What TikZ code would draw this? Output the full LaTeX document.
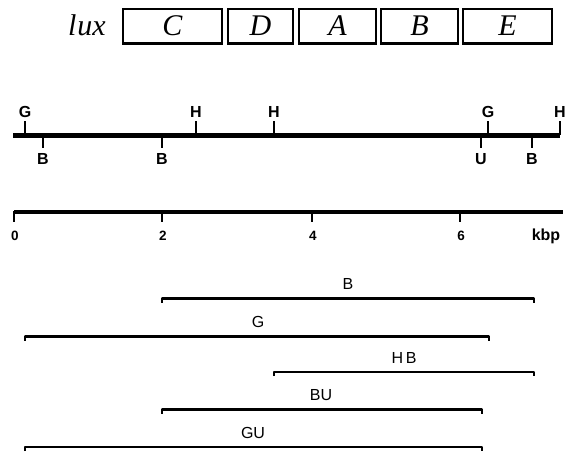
\documentclass[tikz,border=0pt]{standalone}
\usepackage{fontspec}
\setmainfont{Liberation Serif}
\newfontfamily\hv{Liberation Sans}
\begin{document}
\begin{tikzpicture}[x=1pt,y=-1pt,
  gene/.style={draw, line width=2.4pt, minimum height=34.6pt, inner sep=0pt,
    font=\fontsize{30}{30}\selectfont\itshape},
  site/.style={font=\hv\bfseries\fontsize{16}{16}\selectfont, inner sep=0pt},
  kb/.style={font=\hv\bfseries\fontsize{13.5}{13.5}\selectfont, inner sep=0pt},
  frag/.style={font=\hv\fontsize{16}{16}\selectfont, inner sep=0pt},
  mapline/.style={line width=5pt},
  scaleline/.style={line width=3.5pt},
  tickmark/.style={line width=2.6pt},
  fragline/.style={line width=2.4pt, line join=round},
]
\useasboundingbox (0,0) rectangle (565,451);

% lux operon genes
\node[anchor=base east, font=\fontsize{30}{30}\selectfont\itshape, inner sep=0pt] (luxname) at (106,35) {l\kern1pt ux};
\node[gene, minimum width=98.6pt] (luxC) at (172.5,26) {C};
\node[gene, minimum width=64.6pt] (luxD) at (260.5,26) {D};
\node[gene, minimum width=76.6pt] (luxA) at (337.5,26) {A};
\node[gene, minimum width=76.6pt] (luxB) at (419.5,26) {B};
\node[gene, minimum width=88.6pt] (luxE) at (507.5,26) {E};

% restriction map
\coordinate (mapL) at (13,135);
\coordinate (mapR) at (560,135);
\draw[mapline] (mapL) -- (mapR);
% sites above the line
\foreach \x/\s [count=\i] in {25/G,196/H,274/H,488/G,560/H}{
  \node[site] (up\i) at (\x,112) {\s};
  \draw[tickmark] (\x,121) -- (\x,135);
}
% sites below the line
\foreach \x/\s [count=\i] in {43/B,162/B,481/U,532/B}{
  \node[site] (dn\i) at (\x,159) {\s};
  \draw[tickmark] (\x,135) -- (\x,148);
}

% kbp scale
\coordinate (scL) at (14,212);
\coordinate (scR) at (563,212);
\draw[scaleline] (scL) -- (scR);
\foreach \x/\n in {14/0,162/2,312/4,460/6}{
  \draw[tickmark] (\x,211) -- (\x,222);
  \node[kb] (kb\n) at (\x+1,236) {\n};
}
\node[kb, font=\hv\bfseries\fontsize{16}{16}\selectfont] (kbp) at (546,236) {kbp};

% cloned fragments
\foreach \nm/\a/\b/\y/\lx/\lab in {
  fB/162/534/298.5/348/B,
  fG/25/489/336.5/258/G,
  fHB/274/534/372/404/H\,B,
  fBU/162/482/409.5/321/BU,
  fGU/25/482/447/253/GU}{
  \coordinate (\nm L) at (\a,\y);
  \coordinate (\nm R) at (\b,\y);
  \draw[fragline] ([yshift=-4pt]\nm L) -- (\nm L) -- (\nm R) -- ([yshift=-4pt]\nm R);
  \node[frag] (\nm lab) at (\lx,\y-14.5) {\lab};
}
\end{tikzpicture}
\end{document}
